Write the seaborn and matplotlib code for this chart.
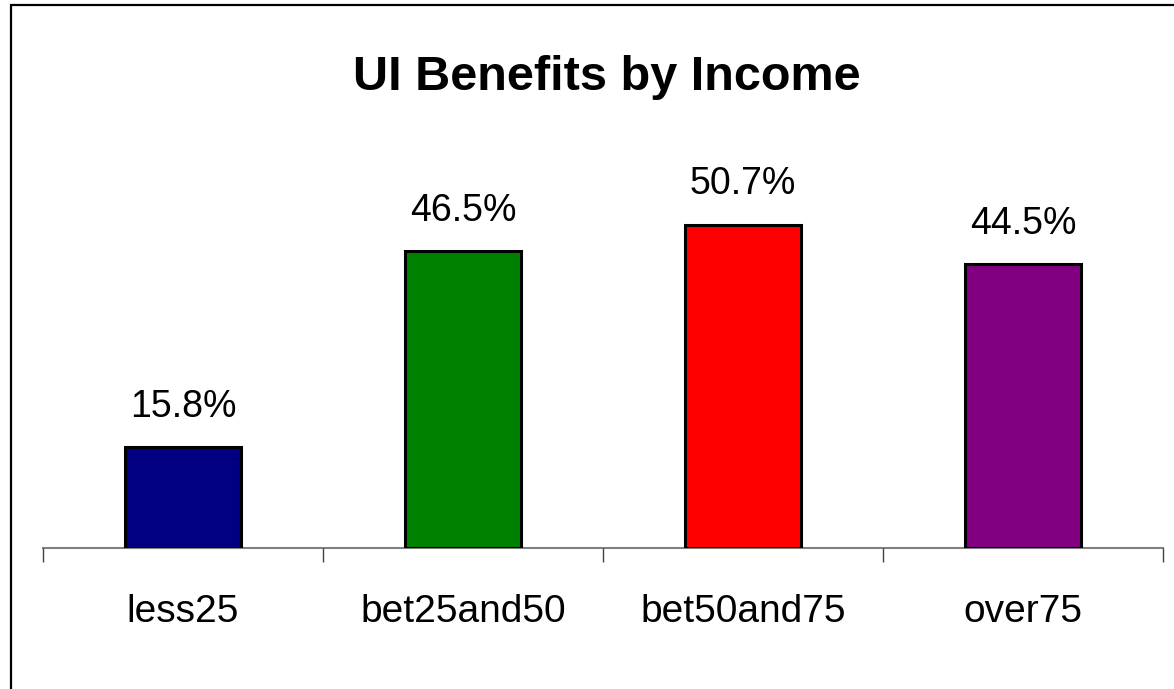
import matplotlib
matplotlib.use("Agg")
import matplotlib.pyplot as plt
import seaborn as sns
import pandas as pd
from matplotlib.patches import Rectangle
from matplotlib.ticker import FixedLocator

# chart data
categories = ["less25", "bet25and50", "bet50and75", "over75"]
shares = [15.8, 46.5, 50.7, 44.5]
bar_colors = ["#000080", "#008000", "#FF0000", "#800080"]
title = "UI Benefits by Income"

df = pd.DataFrame({"income": categories, "share": shares})

sns.set_style("white")
plt.rcParams["font.family"] = ["Liberation Sans", "DejaVu Sans"]
plt.rcParams["text.color"] = "black"
plt.rcParams["xtick.color"] = "black"
plt.rcParams["xtick.labelcolor"] = "black"

fig = plt.figure(figsize=(11.74, 6.89), dpi=100)
ax = fig.add_axes([43 / 1174, 141 / 689, 1120 / 1174, 446.6 / 689])

sns.barplot(data=df, x="income", y="share", hue="income", palette=bar_colors,
            order=categories, hue_order=categories, legend=False,
            width=0.414, edgecolor="black", linewidth=2.2, saturation=1, ax=ax)

ax.set_xlim(-0.5, 3.5)
ax.set_ylim(0, 70)
ax.set_xlabel("")
ax.set_ylabel("")
ax.set_yticks([])

for s in ["left", "right", "top"]:
    ax.spines[s].set_visible(False)
ax.spines["bottom"].set_color("#808080")
ax.spines["bottom"].set_linewidth(1.5)
ax.spines["bottom"].set_zorder(0)

# labels at centres, tick marks between categories
ax.tick_params(axis="x", which="major", length=0, pad=33, labelsize=28,
               labelcolor="black")
ax.xaxis.set_minor_locator(FixedLocator([-0.5, 0.5, 1.5, 2.5, 3.5]))
ax.tick_params(axis="x", which="minor", bottom=True, length=10, width=1,
               color="#404040", direction="out")

for i, v in enumerate(shares):
    ax.annotate(f"{v:.1f}%", (i, v), xytext=(0, 22), textcoords="offset points",
                ha="center", va="baseline", fontsize=27, color="black")

fig.text(0.517, 0.888, title, ha="center", va="center", fontsize=35,
         fontweight="bold", color="black")

# outer frame (only left and top edges fall inside the image)
fig.patches.append(Rectangle((11 / 1174, -0.1), 1.2, 0.1 + (1 - 5 / 689),
                             transform=fig.transFigure, fill=False,
                             edgecolor="black", linewidth=1.6))

fig.savefig("out.png", dpi=100)
